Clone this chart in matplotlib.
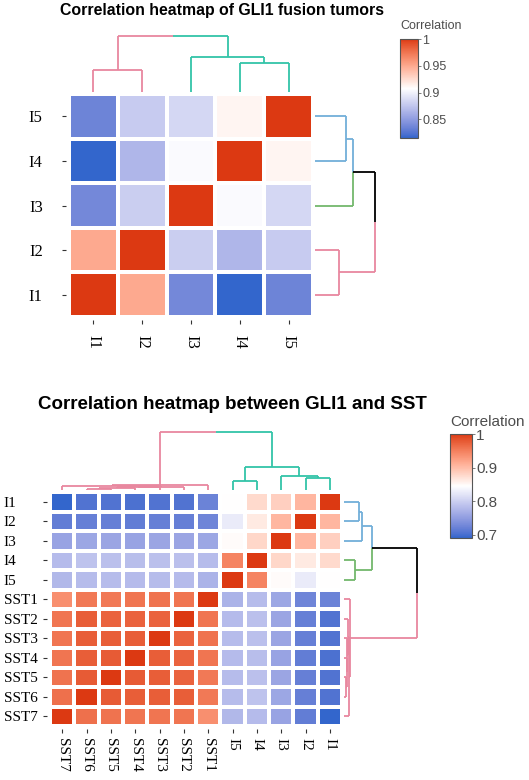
import numpy as np
import matplotlib
matplotlib.use("Agg")
import matplotlib.pyplot as plt
from matplotlib.colors import ListedColormap, Normalize, to_rgb

# ---------------- data ----------------
# Plot 1: GLI1 fusion tumors
names1 = ["I1", "I2", "I3", "I4", "I5"]
corr1 = [
    [1.000, 0.950, 0.838, 0.815, 0.835],
    [0.950, 1.000, 0.880, 0.866, 0.878],
    [0.838, 0.880, 1.000, 0.905, 0.885],
    [0.815, 0.866, 0.905, 1.000, 0.912],
    [0.835, 0.878, 0.885, 0.912, 1.000],
]
# merges: (child a, child b, height); ids >= n are previous merges
merges1 = [(0, 1, 0.40), (3, 4, 0.52), (2, 6, 0.625), (5, 7, 1.0)]
col_colors1 = ["pink", "pink", "teal", "teal", "teal"]
row_colors1 = ["pink", "pink", "green", "blue", "blue"]
ticks1 = [0.85, 0.9, 0.95, 1.0]

# Plot 2: GLI1 and SST
names2 = ["I1", "I2", "I3", "I4", "I5",
          "SST1", "SST2", "SST3", "SST4", "SST5", "SST6", "SST7"]
corr_I_I = [
    [1.000, 0.905, 0.884, 0.876, 0.845],
    [0.905, 1.000, 0.905, 0.863, 0.826],
    [0.884, 0.905, 1.000, 0.878, 0.848],
    [0.876, 0.863, 0.878, 1.000, 0.946],
    [0.845, 0.826, 0.848, 0.946, 1.000],
]
corr_SST_SST = [
    [1.000, 0.958, 0.960, 0.958, 0.955, 0.955, 0.938],
    [0.958, 1.000, 0.972, 0.972, 0.972, 0.975, 0.958],
    [0.960, 0.972, 1.000, 0.975, 0.975, 0.975, 0.958],
    [0.958, 0.972, 0.975, 1.000, 0.978, 0.975, 0.958],
    [0.955, 0.972, 0.975, 0.978, 1.000, 0.978, 0.960],
    [0.955, 0.975, 0.975, 0.975, 0.978, 1.000, 0.962],
    [0.938, 0.958, 0.958, 0.958, 0.960, 0.962, 1.000],
]
corr_I_SST = [
    [0.722, 0.705, 0.705, 0.703, 0.705, 0.705, 0.690],
    [0.725, 0.718, 0.718, 0.716, 0.718, 0.718, 0.716],
    [0.760, 0.758, 0.758, 0.756, 0.758, 0.760, 0.756],
    [0.782, 0.785, 0.785, 0.783, 0.785, 0.787, 0.780],
    [0.772, 0.780, 0.782, 0.780, 0.782, 0.782, 0.776],
]
merges2 = [(10, 9, 0.025), (12, 8, 0.035), (13, 7, 0.045), (14, 6, 0.055),
           (11, 15, 0.07), (16, 5, 0.085),
           (4, 3, 0.15), (1, 0, 0.20), (2, 19, 0.25), (18, 20, 0.39),
           (17, 21, 1.0)]
col_colors2 = ["teal"] * 5 + ["pink"] * 7
row_colors2 = ["blue", "blue", "blue", "green", "green"] + ["pink"] * 7
ticks2 = [0.7, 0.8, 0.9, 1.0]

# ---------------- style ----------------
PALETTE = {"pink": "#E8879F", "teal": "#33C4A8", "blue": "#72AFD9",
           "green": "#73B86C", "black": "#000000"}
SERIF = ["Liberation Serif", "DejaVu Serif"]
SANS = ["Liberation Sans", "DejaVu Sans"]


# blue-white-red colormap interpolated in CIE Lab space
def _srgb_to_lab(c):
    c = np.asarray(c, float)
    lin = np.where(c <= 0.04045, c / 12.92, ((c + 0.055) / 1.055) ** 2.4)
    Mx = np.array([[0.4124, 0.3576, 0.1805],
                   [0.2126, 0.7152, 0.0722],
                   [0.0193, 0.1192, 0.9505]])
    xyz = Mx @ lin / np.array([0.95047, 1.0, 1.08883])
    f = np.where(xyz > 0.008856, np.cbrt(xyz), 7.787 * xyz + 16 / 116)
    return np.array([116 * f[1] - 16, 500 * (f[0] - f[1]), 200 * (f[1] - f[2])])


def _lab_to_srgb(lab):
    L, a, b = lab
    fy = (L + 16) / 116
    fx = fy + a / 500
    fz = fy - b / 200
    f = np.array([fx, fy, fz])
    xyz = np.where(f ** 3 > 0.008856, f ** 3, (f - 16 / 116) / 7.787)
    xyz = xyz * np.array([0.95047, 1.0, 1.08883])
    Mi = np.array([[3.2406, -1.5372, -0.4986],
                   [-0.9689, 1.8758, 0.0415],
                   [0.0557, -0.2040, 1.0570]])
    lin = Mi @ xyz
    lin = np.clip(lin, 0, 1)
    c = np.where(lin <= 0.0031308, 12.92 * lin, 1.055 * lin ** (1 / 2.4) - 0.055)
    return np.clip(c, 0, 1)


def lab_cmap(colors, n=256):
    labs = [_srgb_to_lab(to_rgb(c)) for c in colors]
    out = []
    for t in np.linspace(0, 1, n):
        s = t * (len(labs) - 1)
        i = min(int(s), len(labs) - 2)
        u = s - i
        out.append(_lab_to_srgb(labs[i] * (1 - u) + labs[i + 1] * u))
    return ListedColormap(out)


CMAP = lab_cmap(["#3366CC", "#FFFFFF", "#DC3912"])

W, H, DPI = 529, 780, 100
fig = plt.figure(figsize=(W / DPI, H / DPI), dpi=DPI)


def ax_px(x0, y0, x1, y1):
    return fig.add_axes([x0 / W, 1 - y1 / H, (x1 - x0) / W, (y1 - y0) / H])


def leaf_order(merges, n, node):
    if node < n:
        return [node]
    a, b, _ = merges[node - n]
    return leaf_order(merges, n, a) + leaf_order(merges, n, b)


def draw_dendro(ax, merges, n, colors, orient, lw=1.3):
    leaves = leaf_order(merges, n, n + len(merges) - 1)
    pos = {leaf: k for k, leaf in enumerate(leaves)}
    info = {i: (pos[i], 0.0, colors[i]) for i in range(n)}

    def seg(p, h, c):
        if orient == "top":
            ax.plot(p, h, color=PALETTE[c], lw=lw, clip_on=False,
                    solid_capstyle="butt")
        else:
            ax.plot(h, p, color=PALETTE[c], lw=lw, clip_on=False,
                    solid_capstyle="butt")

    for j, (a, b, h) in enumerate(merges):
        pa, ha, ca = info[a]
        pb, hb, cb = info[b]
        mid = (pa + pb) / 2
        seg([pa, pa], [ha, h], ca)
        seg([pb, pb], [hb, h], cb)
        seg([pa, mid], [h, h], ca)
        seg([mid, pb], [h, h], cb)
        info[n + j] = (mid, h, ca if ca == cb else "black")
    hmax = max(m[2] for m in merges)
    if orient == "top":
        ax.set_xlim(-0.5, n - 0.5)
        ax.set_ylim(0, hmax)
    else:
        ax.set_ylim(-0.5, n - 0.5)
        ax.set_xlim(0, hmax)
    ax.axis("off")
    return leaves


def panel(names, corr, merges, col_colors, row_colors, ticks, hm_box,
          cd_box, rd_box, cb_box, title, title_xy, title_size, lab_size,
          ylab_ha, ylab_pad, xlab_pad, cb_size, cb_title_xy):
    n = len(names)
    M = np.array(corr)
    ax_c = ax_px(*cd_box)
    order = draw_dendro(ax_c, merges, n, col_colors, "top")
    ax_r = ax_px(*rd_box)
    draw_dendro(ax_r, merges, n, row_colors, "right")

    ax = ax_px(*hm_box)
    data = M[np.ix_(order, order)]
    norm = Normalize(vmin=M.min(), vmax=M.max())
    edges = np.arange(n + 1) - 0.5
    mesh = ax.pcolormesh(edges, edges, data, cmap=CMAP, norm=norm,
                         edgecolors="white", linewidth=1.6)
    ax.set_xlim(-0.5, n - 0.5)
    ax.set_ylim(-0.5, n - 0.5)
    for s in ax.spines.values():
        s.set_visible(False)
    ax.spines["left"].set_position(("outward", 2.2))
    ax.spines["bottom"].set_position(("outward", 2.2))
    ax.set_xticks(range(n))
    ax.set_yticks(range(n))
    lab = [names[i] for i in order]
    ax.set_xticklabels(lab, rotation=-90, fontfamily=SERIF, fontsize=lab_size)
    ax.set_yticklabels(lab, fontfamily=SERIF, fontsize=lab_size, ha=ylab_ha)
    ax.tick_params(axis="x", length=3, width=0.8, color="#333333", pad=xlab_pad)
    ax.tick_params(axis="y", length=3, width=0.8, color="#333333", pad=ylab_pad)

    cax = ax_px(*cb_box)
    cb = fig.colorbar(mesh, cax=cax, ticks=ticks)
    cb.ax.set_yticklabels(["%g" % t for t in ticks])
    cb.outline.set_edgecolor("#555555")
    cb.outline.set_linewidth(0.8)
    cb.ax.tick_params(length=2, width=0.6, color="#666666", pad=1,
                      labelsize=cb_size, labelcolor="#4D4D4D")
    for t in cb.ax.get_yticklabels():
        t.set_fontfamily(SANS)
    fig.text(cb_title_xy[0] / W, 1 - cb_title_xy[1] / H, "Correlation",
             fontsize=cb_size, family=SANS, color="#4D4D4D",
             ha="left", va="center")
    fig.text(title_xy[0] / W, 1 - title_xy[1] / H, title, fontsize=title_size,
             family=SANS, fontweight="bold", ha="center", va="center")


# Plot 1
panel(names1, corr1, merges1, col_colors1, row_colors1, ticks1,
      hm_box=(69, 94, 313, 317), cd_box=(69, 36, 313, 92),
      rd_box=(315, 94, 375, 317), cb_box=(400, 39, 418, 138),
      title="Correlation heatmap of GLI1 fusion tumors", title_xy=(222, 10),
      title_size=11.4, lab_size=12, ylab_ha="right", ylab_pad=13.7,
      xlab_pad=8, cb_size=9, cb_title_xy=(400, 26))

# Plot 2
M2 = np.block([[np.array(corr_I_I), np.array(corr_I_SST)],
               [np.array(corr_I_SST).T, np.array(corr_SST_SST)]])
panel(names2, M2, merges2, col_colors2, row_colors2, ticks2,
      hm_box=(50, 492, 342, 726), cd_box=(50, 432, 342, 490),
      rd_box=(344, 492, 417, 726), cb_box=(450, 434, 472, 538),
      title="Correlation heatmap between GLI1 and SST", title_xy=(232, 404),
      title_size=13.5, lab_size=11, ylab_ha="left", ylab_pad=28,
      xlab_pad=3.6, cb_size=11, cb_title_xy=(450, 422))

fig.savefig("out.png", dpi=DPI)
